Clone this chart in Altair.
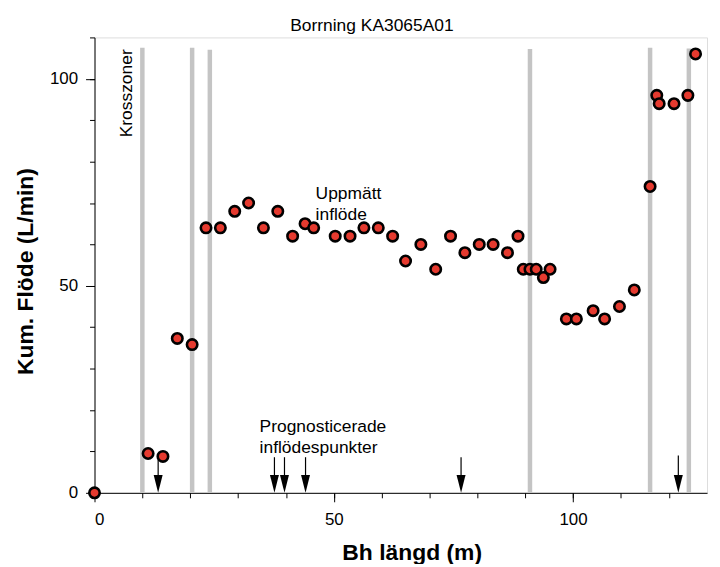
import altair as alt
import pandas as pd

# ---- data ----
pos_m = [0, 11.2, 14.3, 17.3, 20.4, 23.3, 26.3, 29.3, 32.2, 35.3, 38.3, 41.4, 44.0, 45.8,
         50.3, 53.4, 56.3, 59.3, 62.3, 65.0, 68.2, 71.3, 74.4, 77.4, 80.4, 83.3, 86.3,
         88.5, 89.6, 91.0, 92.3, 93.8, 95.2, 98.6, 100.7, 104.2, 106.6, 109.7, 112.8,
         116.1, 117.5, 118.0, 121.1, 124.0, 125.6]
flow = [0, 9.5, 8.8, 37.3, 35.8, 64, 64, 68, 70, 64, 68, 62, 65, 64,
        62, 62, 64, 64, 62, 56, 60, 54, 62, 58, 60, 60, 58,
        62, 54, 54, 54, 52, 54, 42, 42, 44, 42, 45, 49,
        74, 96, 94, 94, 96, 106]

zone_m = [10.0, 20.4, 24.1, 91.0, 116.1, 124.2]
zone_top = [107.5, 107.5, 107.0, 107.2, 107.5, 107.3]

arrow_m = [13.3, 37.6, 39.7, 44.1, 76.6, 122.0]
arrow_top = [8.0, 8.6, 8.6, 8.6, 8.6, 9.0]

note_text = ["Uppmätt", "inflöde", "Prognosticerade", "inflödespunkter"]
note_x = [46.2, 46.2, 34.5, 34.5]
note_y = [71.0, 66.0, 14.7, 9.5]

zone_label = ["Krosszoner"]
zone_label_x = [6.75]
zone_label_y = [96.5]

x_minor = list(range(0, 130, 10))
y_minor = list(range(0, 120, 10))
major_ticks = [0, 50, 100]

FONT = "Liberation Sans"

pts = pd.DataFrame({"pos": pos_m, "flow": flow})
zones = pd.DataFrame({"x": zone_m, "y0": [0] * len(zone_m), "y1": zone_top})
arrows = pd.DataFrame({"x": arrow_m, "top": arrow_top,
                       "shaft_end": [3.0] * len(arrow_m), "base": [0] * len(arrow_m)})
notes = pd.DataFrame({"t": note_text, "x": note_x, "y": note_y})
zlab = pd.DataFrame({"t": zone_label, "x": zone_label_x, "y": zone_label_y})

xs = alt.Scale(domain=[0, 128], nice=False, zero=False)
ys = alt.Scale(domain=[0, 110], nice=False)

x_minor_axis = alt.Axis(orient="bottom", values=x_minor, tickSize=5, labels=False,
                        title=None, domain=True, domainColor="black", domainWidth=1,
                        tickColor="black", tickWidth=1, grid=False)
y_minor_axis = alt.Axis(orient="left", values=y_minor, tickSize=5, labels=False,
                        title=None, domain=True, domainColor="black", domainWidth=1,
                        tickColor="black", tickWidth=1, grid=False)

x_major_axis = alt.Axis(orient="bottom", values=major_ticks, tickSize=9, tickColor="black",
                        tickWidth=1, domain=False, grid=False,
                        labelFont=FONT, labelFontSize=17, labelColor="black", labelPadding=10,
                        title="Bh längd (m)", titleFont=FONT, titleFontSize=23,
                        titleFontWeight="bold", titleColor="black", titleX=319, titleY=67,
                        titleBaseline="alphabetic", titleAlign="center")
y_major_axis = alt.Axis(orient="left", values=major_ticks, tickSize=9, tickColor="black",
                        tickWidth=1, domain=False, grid=False,
                        labelFont=FONT, labelFontSize=17, labelColor="black", labelPadding=8,
                        title="Kum. Flöde (L/min)", titleFont=FONT, titleFontSize=23,
                        titleFontWeight="bold", titleColor="black", titleAngle=270,
                        titleX=-62, titleY=235, titleBaseline="alphabetic", titleAlign="center")

zone_layer = alt.Chart(zones).mark_rule(color="#c4c4c4", strokeWidth=4.5).encode(
    x=alt.X("x:Q", scale=xs, axis=x_minor_axis),
    y=alt.Y("y0:Q", scale=ys, axis=y_minor_axis),
    y2="y1:Q",
)

shaft_layer = alt.Chart(arrows).mark_rule(color="black", strokeWidth=1.2).encode(
    x=alt.X("x:Q", scale=xs, axis=None),
    y=alt.Y("top:Q", scale=ys, axis=None),
    y2="shaft_end:Q",
)

head_layer = alt.Chart(arrows).mark_point(
    shape="M-0.5,-2 L0.5,-2 L0,0 Z", size=324, filled=True, color="black",
    opacity=1, strokeWidth=0,
).encode(
    x=alt.X("x:Q", scale=xs, axis=None),
    y=alt.Y("base:Q", scale=ys, axis=None),
)

point_layer = alt.Chart(pts).mark_circle(
    size=110, fill="#e53a2f", stroke="black", strokeWidth=2.6, opacity=1
).encode(
    x=alt.X("pos:Q", scale=xs, axis=x_major_axis),
    y=alt.Y("flow:Q", scale=ys, axis=y_major_axis),
)

note_layer = alt.Chart(notes).mark_text(
    align="left", baseline="alphabetic", font=FONT, fontSize=17.5, color="black"
).encode(
    x=alt.X("x:Q", scale=xs, axis=None),
    y=alt.Y("y:Q", scale=ys, axis=None),
    text="t:N",
)

zlab_layer = alt.Chart(zlab).mark_text(
    align="center", baseline="middle", angle=270, font=FONT, fontSize=17.5, color="black"
).encode(
    x=alt.X("x:Q", scale=xs, axis=None),
    y=alt.Y("y:Q", scale=ys, axis=None),
    text="t:N",
)

chart = alt.layer(
    zone_layer, shaft_layer, head_layer, point_layer, note_layer, zlab_layer
).resolve_axis(
    x="independent", y="independent"
).properties(
    width=616,
    height=458,
    padding={"left": 87, "top": 28, "right": 5, "bottom": 70},
    autosize=alt.AutoSizeParams(type="none"),
    title=alt.TitleParams("Borrning KA3065A01", font=FONT, fontSize=17.5,
                          fontWeight="normal", color="black", anchor="middle",
                          frame="group", dx=-29, dy=18, offset=6, baseline="alphabetic"),
).configure_view(stroke=None).configure(background="white")

chart.save("out.html", embed_options={"renderer": "svg", "actions": False})
